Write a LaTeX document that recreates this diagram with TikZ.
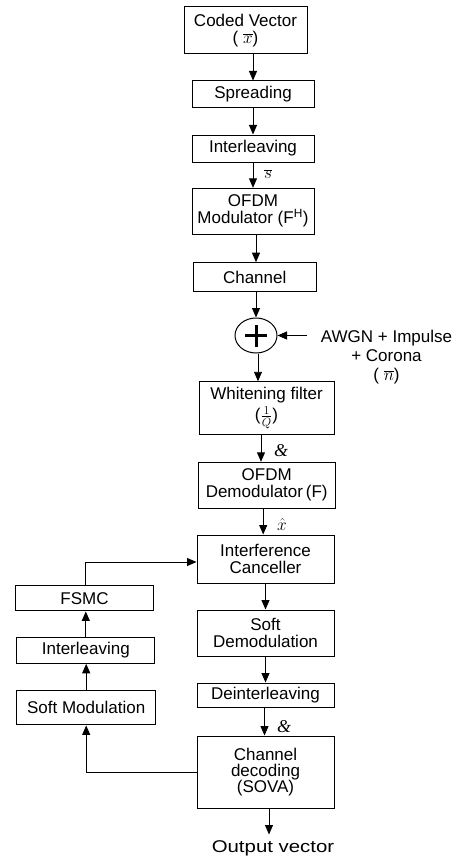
\documentclass[tikz,border=0pt]{standalone}
\usepackage{fontspec}
\usepackage{graphicx}
\setmainfont{Liberation Sans}
\newfontfamily\serifit{Liberation Serif}
\usetikzlibrary{arrows.meta,shapes.geometric}
\begin{document}
\begin{tikzpicture}[x=1pt,y=-1pt,
  box/.style={draw, line width=1pt, inner sep=0pt, align=center,
    font=\fontsize{17}{17}\selectfont},
  arr/.style={-{Triangle[length=9.5pt,width=8pt]}, line width=0.9pt},
  lbl/.style={inner sep=0pt, font=\fontsize{17}{17}\selectfont},
  glyph/.style={inner sep=0pt, font=\fontsize{18}{18}\selectfont\serifit\itshape}]
\useasboundingbox (0,0) rectangle (453,856);

% main column
\node[box, minimum width=123pt, minimum height=47pt] (cv) at (245.5,30.5) {Coded Vector\\( $\overline{x}$)};
\node[box, minimum width=122pt, minimum height=27pt] (spr) at (253,94.5) {Spreading};
\node[box, minimum width=122pt, minimum height=27pt] (int1) at (253,148.5) {Interleaving};
\node[box, minimum width=122pt, minimum height=46pt] (ofdm) at (253,211.3) {OFDM\\Modulator (F\textsuperscript{H})};
\node[box, minimum width=123pt, minimum height=29pt] (ch) at (254.7,277.2) {Channel};
\node[draw, ellipse, line width=1pt, minimum width=42pt, minimum height=35pt, inner sep=0pt] (sum) at (256,335.5) {};
\draw[line width=3pt] ([xshift=-11pt]sum.center) -- ([xshift=11pt]sum.center);
\draw[line width=3pt] ([yshift=-11pt]sum.center) -- ([yshift=11pt]sum.center);
\node[box, minimum width=135pt, minimum height=53pt] (wf) at (266.5,408.3) {Whitening filter\\[2pt]($\frac{1}{Q}$)};
\node[box, minimum width=137pt, minimum height=46pt] (ofdmd) at (266.7,485.3) {OFDM\\Demodulator\,(F)};
\node[box, minimum width=137pt, minimum height=48pt] (ic) at (265.5,559) {Interference\\Canceller};
\node[box, minimum width=137pt, minimum height=46pt] (sd) at (265.5,633) {Soft\\Demodulation};
\node[box, minimum width=137pt, minimum height=24pt] (deint) at (265.5,695) {Deinterleaving};
\node[box, minimum width=137pt, minimum height=72pt, font=\fontsize{17}{16}\selectfont] (cd) at (265.5,772) {Channel\\decoding\\(SOVA)};
\node[lbl] (out) at (273,848) {\scalebox{1.2}[1]{Output vector}};

% left column
\node[box, minimum width=137.6pt, minimum height=25.3pt] (fsmc) at (84.5,598.3) {FSMC};
\node[box, minimum width=138.3pt, minimum height=26pt] (int2) at (85.8,650.3) {Interleaving};
\node[box, minimum width=139pt, minimum height=34.3pt] (sm) at (86.2,707.8) {Soft Modulation};

% noise input
\coordinate (noise) at (307,335.5);
\node[lbl, align=center, font=\fontsize{17}{19}\selectfont] (awgn) at (386.5,357) {AWGN + Impulse\\+ Corona\\( $\overline{n}$)};

% labels
\node[lbl] (sbar) at (268,174) {$\overline{s}$};
\node[glyph] (g1) at (281,451) {\&};
\node[lbl] (xhat) at (282,524) {$\hat{x}$};
\node[glyph] (g2) at (284,727) {\&};

% arrows main column
\draw[arr] (spr.north |- cv.south) -- (spr.north);
\draw[arr] (spr.south) -- (int1.north);
\draw[arr] (int1.south) -- (ofdm.north);
\draw[arr] (sum |- ofdm.south) -- (sum |- ch.north);
\draw[arr] (sum |- ch.south) -- (sum.north);
\draw[arr] (noise) -- (sum.east);
\draw[arr] ([xshift=2pt]sum.south) -- ([xshift=2pt]sum.south |- wf.north);
\draw[arr] ([xshift=-5.5pt]wf.south) -- ([xshift=-5.5pt]wf.south |- ofdmd.north);
\draw[arr] ([xshift=-3.5pt]ofdmd.south) -- ([xshift=-3.5pt]ofdmd.south |- ic.north);
\draw[arr] (ic.south) -- (sd.north);
\draw[arr] (sd.south) -- (deint.north);
\draw[arr] ([xshift=-1pt]deint.south) -- ([xshift=-1pt]deint.south |- cd.north);
\draw[arr] ([xshift=3.5pt]cd.south) -- ([xshift=3.5pt,yshift=-26pt]cd.south);

% feedback loop
\draw[arr] (cd.west) -| (sm.south);
\draw[arr] (sm.north) -- (sm.north |- int2.south);
\draw[arr] (int2.north) -- (int2.north |- fsmc.south);
\draw[arr] (int2.north |- fsmc.north) |- ([yshift=-3pt]ic.west);
\end{tikzpicture}
\end{document}
